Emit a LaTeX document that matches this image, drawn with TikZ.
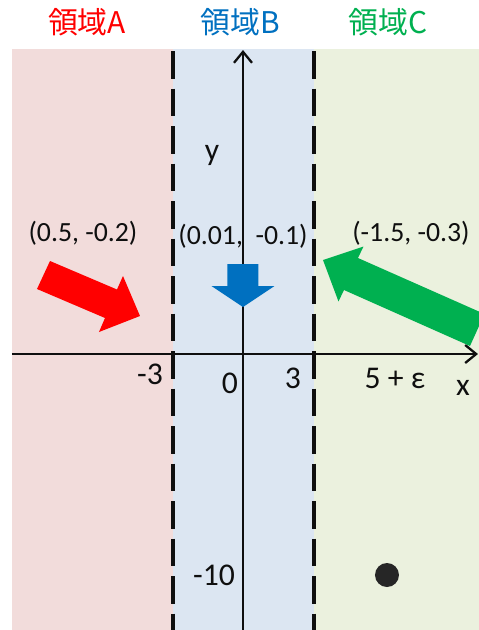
\documentclass[tikz,border=0pt]{standalone}
\usepackage{fontspec}
\setmainfont{Carlito}
\newfontfamily\jpfont{Noto Sans CJK JP}
\definecolor{zoneA}{RGB}{242,220,219}
\definecolor{zoneB}{RGB}{220,230,242}
\definecolor{zoneC}{RGB}{235,241,222}
\definecolor{redA}{RGB}{255,0,0}
\definecolor{blueB}{RGB}{0,112,192}
\definecolor{greenC}{RGB}{0,176,80}
\definecolor{ink}{RGB}{15,15,15}
\definecolor{dotc}{RGB}{38,38,38}
\usetikzlibrary{arrows.meta}

\begin{document}
\begin{tikzpicture}[
    title/.style={font=\jpfont\fontsize{17}{20}\selectfont, inner sep=0pt},
    vec/.style={font=\fontsize{15.8}{18}\selectfont, text=ink, inner sep=0pt},
    tick/.style={font=\fontsize{18}{21}\selectfont, text=ink, inner sep=0pt},
    border/.style={ink, line width=2.3pt, dash pattern=on 0.55cm off 0.20cm},
    axis/.style={ink, line width=1.3pt, -{Straight Barb[length=2.2mm,width=3.6mm]}}]
  \clip (-4.86,-5.52) rectangle (4.72,7.08);
  % zones
  \fill[zoneA] (-4.62,-5.52) rectangle (-1.40,6.10);
  \fill[zoneB] (-1.40,-5.52) rectangle (1.42,6.10);
  \fill[zoneC] (1.42,-5.52) rectangle (4.72,6.10);
  \node[title, text=redA] (titleA) at (-3.12,6.64) {領域A};
  \node[title, text=blueB] (titleB) at (-0.06,6.64) {領域B};
  \node[title, text=greenC] (titleC) at (2.90,6.64) {領域C};
  % axes
  \draw[axis] (-4.62,0) -- (4.70,0);
  \draw[axis] (0,-5.52) -- (0,6.08);
  \node[tick] (ylab) at (-0.62,3.98) {y};
  \node[tick] (xlab) at (4.40,-0.68) {x};
  \node[tick] (mthree) at (-1.86,-0.40) {-3};
  \node[tick] (zero) at (-0.26,-0.58) {0};
  \node[tick] (three) at (1.00,-0.48) {3};
  \node[tick] (fiveeps) at (3.04,-0.48) {5 + ε};
  \node[tick] (mten) at (-0.58,-4.42) {-10};
  % zone borders
  \draw[border] (-1.40,6.06) -- (-1.40,-5.52);
  \draw[border] (1.42,6.06) -- (1.42,-5.52);
  % velocity arrows
  \fill[redA] (-3.86,1.86) -- (-2.52,1.29) -- (-2.40,1.56) -- (-2.06,0.76)
    -- (-2.88,0.44) -- (-2.76,0.72) -- (-4.12,1.30) -- cycle;
  \fill[blueB] (-0.31,1.80) -- (0.31,1.80) -- (0.31,1.36) -- (0.63,1.36)
    -- (0,0.94) -- (-0.63,1.36) -- (-0.31,1.36) -- cycle;
  \fill[greenC] (1.60,1.88) -- (2.41,2.15) -- (2.30,1.92) -- (4.83,0.80)
    -- (4.54,0.16) -- (2.02,1.28) -- (1.91,1.05) -- cycle;
  \node[vec] (velA) at (-3.20,2.42) {(0.5, -0.2)};
  \node[vec] (velB) at (0,2.36) {(0.01,\ \ -0.1)};
  \node[vec] (velC) at (3.36,2.42) {(-1.5, -0.3)};
  % point in zone C
  \fill[dotc] (2.88,-4.42) circle (0.24);
\end{tikzpicture}
\end{document}
